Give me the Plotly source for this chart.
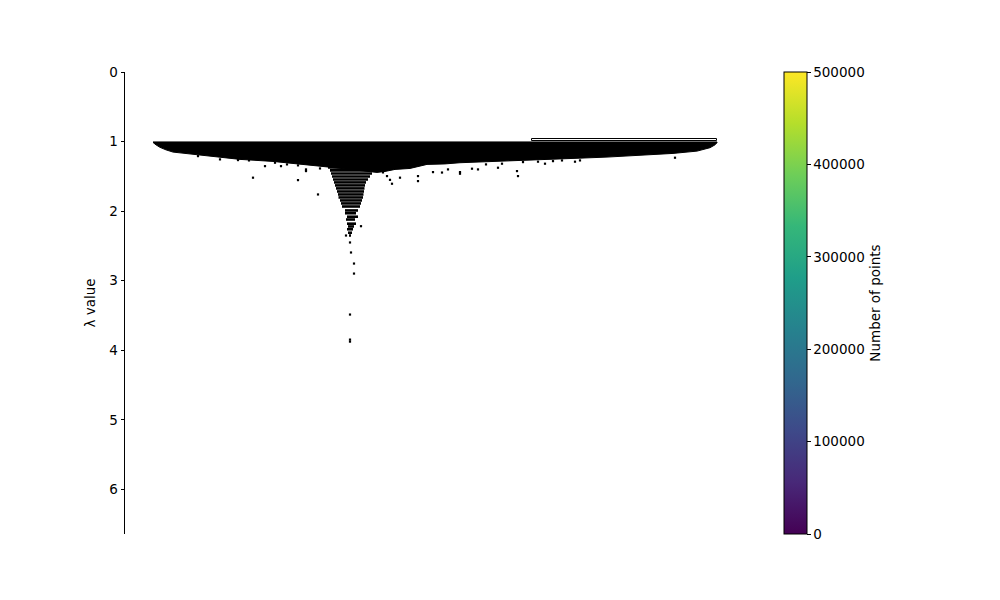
import plotly.graph_objects as go

# ---- data (x = position along the tree, lambda = λ value) ----
main_top_lambda = 1.005
profile_x = [153, 156, 160, 166, 173, 190, 207, 240, 273, 307, 320, 327,
             377, 385, 395, 410, 427, 445, 460, 493, 527, 560, 573, 607,
             640, 673, 697, 710, 715, 717]
profile_lambda = [1.012, 1.047, 1.083, 1.119, 1.151, 1.184, 1.209, 1.256, 1.285, 1.328, 1.353, 1.364,
                  1.443, 1.429, 1.400, 1.386, 1.328, 1.321, 1.304, 1.289, 1.271, 1.249, 1.242, 1.223,
                  1.199, 1.170, 1.137, 1.088, 1.047, 1.016]

# trough slices (lambda level, left, right)
slice_lambda = [1.371, 1.414, 1.458, 1.501, 1.544, 1.587, 1.630, 1.673, 1.717, 1.760,
                1.803, 1.846, 1.889, 1.933, 1.990, 2.030, 2.080, 2.120, 2.180, 2.220,
                2.260, 2.310, 2.350]
slice_left = [328, 330, 331, 332, 333, 334, 335, 336, 337, 338,
              338.5, 340, 341, 342, 345, 345, 347, 346, 347, 348,
              347, 348, 349]
slice_right = [377, 375, 372, 370, 368, 366, 365, 364.5, 364, 363.5,
               363, 362, 361, 360, 358, 356, 358, 355, 356, 354,
               353, 352, 351]

# isolated points falling out
dot_x = [198, 220, 238, 249, 253, 265, 275, 281, 287, 298, 298, 306, 306, 318, 320,
         383, 387, 392, 390, 400, 418, 418, 433, 442, 448, 460, 460, 472, 478, 486,
         498, 502, 517, 518, 523, 538, 545, 553, 562, 575, 580, 675,
         361, 346, 350, 351, 354, 354, 350, 350, 350]
dot_lambda = [1.209, 1.256, 1.266, 1.271, 1.519, 1.353, 1.304, 1.353, 1.328, 1.554, 1.342, 1.400, 1.424, 1.760, 1.386,
              1.443, 1.496, 1.606, 1.550, 1.519, 1.496, 1.568, 1.439, 1.445, 1.400, 1.439, 1.462, 1.390, 1.400, 1.328,
              1.376, 1.318, 1.424, 1.496, 1.295, 1.289, 1.318, 1.281, 1.271, 1.289, 1.271, 1.232,
              2.216, 2.350, 2.450, 2.594, 2.753, 2.897, 3.486, 3.846, 3.875]

# small sibling cluster bar
small_left, small_right = 532, 717
small_birth, small_death = 0.958, 0.985

colorbar_max = 500000
y_ticks = [0, 1, 2, 3, 4, 5, 6]

FONT = "DejaVu Sans"

fig = go.Figure()

# main cluster mass
poly_x = [profile_x[0]] + [profile_x[-1]] + profile_x[::-1]
poly_y = [main_top_lambda, main_top_lambda] + profile_lambda[::-1]
fig.add_trace(go.Scatter(x=poly_x, y=poly_y, fill="toself", fillcolor="black",
                         mode="lines", line=dict(color="black", width=1),
                         hoverinfo="skip", showlegend=False))

# trough slices
sx, sy = [], []
for lam, l, r in zip(slice_lambda, slice_left, slice_right):
    sx += [l, r, None]
    sy += [lam, lam, None]
fig.add_trace(go.Scatter(x=sx, y=sy, mode="lines", line=dict(color="black", width=2.6),
                         hoverinfo="skip", showlegend=False))

# small cluster bar
fig.add_trace(go.Bar(x=[(small_left + small_right) / 2], y=[small_death - small_birth],
                     base=[small_birth], width=[small_right - small_left],
                     marker=dict(color="white", line=dict(color="black", width=1)),
                     hoverinfo="skip", showlegend=False))

# outlier points
fig.add_trace(go.Scatter(x=dot_x, y=dot_lambda, mode="markers",
                         marker=dict(symbol="square", size=2.2, color="black", line=dict(width=0)),
                         hoverinfo="skip", showlegend=False))

# colorbar carrier (off-axis point)
fig.add_trace(go.Scatter(x=[0], y=[0], mode="markers",
                         marker=dict(color=[0], colorscale="Viridis", cmin=0, cmax=colorbar_max,
                                     showscale=True, size=1,
                                     colorbar=dict(
                                         x=(784.3 - 125) / 620, xanchor="left", xpad=0,
                                         y=0.5, yanchor="middle", len=1, lenmode="fraction", ypad=0,
                                         thickness=23, thicknessmode="pixels",
                                         outlinecolor="black", outlinewidth=1,
                                         ticks="outside", ticklen=3.5, tickwidth=1, tickcolor="black",
                                         tickvals=[0, 100000, 200000, 300000, 400000, 500000],
                                         ticktext=["0", "100000", "200000", "300000", "400000", "500000"],
                                         tickfont=dict(family=FONT, size=13.5, color="black"),
                                         title=dict(text="Number of points", side="right",
                                                    font=dict(family=FONT, size=13.5, color="black")),
                                     )),
                         hoverinfo="skip", showlegend=False))

fig.update_layout(
    width=1000, height=600,
    margin=dict(l=125, r=255, t=72, b=66, pad=0),
    plot_bgcolor="white", paper_bgcolor="white",
    font=dict(family=FONT, size=13.5, color="black"),
    bargap=0,
    xaxis=dict(visible=False, range=[125, 745], fixedrange=True),
    yaxis=dict(range=[6.64, 0], showline=True, linecolor="black", linewidth=1,
               ticks="outside", ticklen=3.5, tickwidth=1, tickcolor="black",
               tickvals=y_ticks, showgrid=False, zeroline=False,
               tickfont=dict(family=FONT, size=13.5, color="black"),
               title=dict(text="λ value", standoff=10,
                          font=dict(family=FONT, size=13.5, color="black"))),
)

fig.write_html("out.html")
